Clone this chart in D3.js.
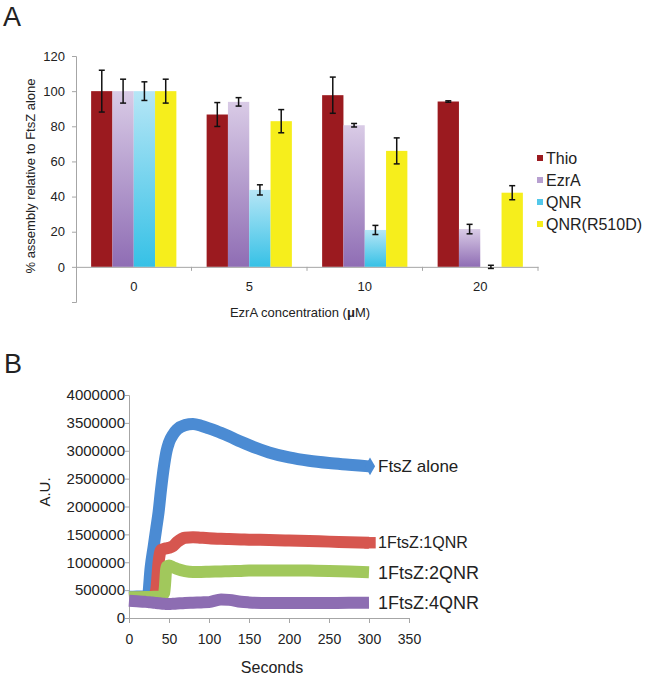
<!DOCTYPE html>
<html>
<head>
<meta charset="utf-8">
<script src="https://cdn.jsdelivr.net/npm/d3@7"></script>
<style>
  body { margin: 0; background: #fff; }
  svg { display: block; font-family: "Liberation Sans", Arial, Helvetica, sans-serif; }
</style>
</head>
<body>
<svg id="fig" width="650" height="679"></svg>
<script>
// ---- panel A data (% assembly relative to FtsZ alone) ----
const categories = ["0", "5", "10", "20"];
const seriesNames = ["Thio", "EzrA", "QNR", "QNR(R510D)"];
const thioVals  = [100, 86.7, 97.7, 94.1];
const thioErr   = [11.9, 6.8, 10.3, 0.4];
const ezraVals  = [100, 93.9, 80.6, 21.5];
const ezraErr   = [6.8, 2.4, 1.0, 2.7];
const qnrVals   = [100, 43.8, 21.0, 0];
const qnrErr    = [5.3, 2.9, 2.6, 0.9];
const r510dVals = [100, 82.9, 66.0, 42.2];
const r510dErr  = [6.8, 6.6, 7.4, 4.0];
const yTicksA = [-20, 0, 20, 40, 60, 80, 100, 120];

// ---- panel B data (light scattering, A.U.) ----
const seconds = [0, 10, 20, 24, 27, 31, 34, 37, 40, 44, 47, 50, 55, 60, 70, 80, 90, 100, 115, 125, 140, 150, 175, 200, 225, 250, 275, 300];
const ftszAlone = [380000, 385000, 390000, 450000, 900000, 1300000, 1600000, 1900000, 2300000, 2750000, 3000000, 3150000, 3290000, 3380000, 3460000, 3480000, 3450000, 3400000, 3320000, 3260000, 3160000, 3100000, 2970000, 2880000, 2820000, 2780000, 2750000, 2720000];
const ftsz1qnr = [360000, 365000, 370000, 375000, 380000, 400000, 500000, 1000000, 1220000, 1240000, 1250000, 1260000, 1290000, 1360000, 1440000, 1450000, 1440000, 1430000, 1420000, 1415000, 1410000, 1405000, 1400000, 1390000, 1380000, 1370000, 1360000, 1350000];
const ftsz2qnr = [370000, 372000, 375000, 375000, 378000, 380000, 380000, 380000, 385000, 450000, 920000, 940000, 910000, 880000, 840000, 825000, 825000, 830000, 835000, 840000, 845000, 850000, 850000, 852000, 850000, 845000, 835000, 820000];
const ftsz4qnr = [310000, 300000, 290000, 285000, 280000, 275000, 270000, 265000, 260000, 255000, 250000, 250000, 255000, 260000, 270000, 275000, 280000, 285000, 330000, 325000, 290000, 280000, 270000, 270000, 270000, 270000, 272000, 275000];
const lineNames = ["FtsZ alone", "1FtsZ:1QNR", "1FtsZ:2QNR", "1FtsZ:4QNR"];
const xTicksB = [0, 50, 100, 150, 200, 250, 300, 350];
const yTicksB = [0, 500000, 1000000, 1500000, 2000000, 2500000, 3000000, 3500000, 4000000];

const svg = d3.select("#fig");
const axisCol = "#a6a6a6";
const txtCol = "#222";

// gradients for the shaded bars
const defs = svg.append("defs");
function vgrad(id, top, bottom) {
  let g = defs.append("linearGradient").attr("id", id)
    .attr("x1", 0).attr("y1", 0).attr("x2", 0).attr("y2", 1);
  g.append("stop").attr("offset", "0%").attr("stop-color", top);
  g.append("stop").attr("offset", "100%").attr("stop-color", bottom);
}
vgrad("gEzrA", "#d9cbe6", "#8f6db4");
vgrad("gQNR", "#b6e6f6", "#36c1e6");

const barFills = ["#9b1a1f", "url(#gEzrA)", "url(#gQNR)", "#f6ee1c"];
const legendCols = ["#9b1a1f", "#b7a0d0", "#52c8ea", "#f6ee1c"];

// ================= Panel A =================
svg.append("text").attr("x", 3).attr("y", 26)
  .attr("font-size", 27).attr("fill", txtCol).text("A");

const xA = d3.scaleBand().domain(categories).range([76, 538]).paddingInner(0).paddingOuter(0);
const xSub = d3.scaleBand().domain(seriesNames).range([0, xA.bandwidth()]).paddingInner(0).paddingOuter(0.71);
const yA = d3.scaleLinear().domain([-20, 120]).range([302, 56]);

const valsA = [thioVals, ezraVals, qnrVals, r510dVals];
const errsA = [thioErr, ezraErr, qnrErr, r510dErr];
const barData = [];
seriesNames.forEach(function(s, si) {
  categories.forEach(function(c, ci) {
    barData.push({ s: s, si: si, c: c, v: valsA[si][ci], e: errsA[si][ci] });
  });
});

const gA = svg.append("g");

// y axis
const yAxisA = d3.axisLeft(yA).tickValues(yTicksA).tickSize(4).tickPadding(7)
  .tickFormat(function(d) { return d < 0 ? "" : d; });
gA.append("g").attr("transform", "translate(76,0)").call(yAxisA)
  .call(function(g) {
    g.select(".domain").attr("stroke", axisCol);
    g.selectAll(".tick line").attr("stroke", axisCol);
    g.selectAll("text").attr("font-size", 13).attr("fill", txtCol)
      .attr("font-family", "Liberation Sans, Arial, sans-serif");
  });

// bars
gA.selectAll("rect.bar").data(barData).enter().append("rect")
  .attr("class", "bar")
  .attr("x", function(d) { return xA(d.c) + xSub(d.s); })
  .attr("width", xSub.bandwidth())
  .attr("y", function(d) { return yA(d.v); })
  .attr("height", function(d) { return yA(0) - yA(d.v); })
  .attr("fill", function(d) { return barFills[d.si]; });

// x axis at 0
const xAxisA = d3.axisBottom(xA).tickSize(0).tickPadding(15);
gA.append("g").attr("transform", "translate(0," + yA(0) + ")").call(xAxisA)
  .call(function(g) {
    g.select(".domain").attr("stroke", axisCol);
    g.selectAll("text").attr("font-size", 13).attr("fill", txtCol)
      .attr("font-family", "Liberation Sans, Arial, sans-serif");
  });
// category boundary ticks
gA.selectAll("line.bnd").data(categories).enter().append("line")
  .attr("x1", function(d) { return xA(d) + xA.step(); })
  .attr("x2", function(d) { return xA(d) + xA.step(); })
  .attr("y1", yA(0)).attr("y2", yA(0) + 4)
  .attr("stroke", axisCol);

// error bars
const capW = 3;
const eb = gA.selectAll("g.err").data(barData).enter().append("g").attr("class", "err")
  .attr("stroke", "#111").attr("stroke-width", 1.5);
eb.append("line")
  .attr("x1", function(d) { return xA(d.c) + xSub(d.s) + xSub.bandwidth() / 2; })
  .attr("x2", function(d) { return xA(d.c) + xSub(d.s) + xSub.bandwidth() / 2; })
  .attr("y1", function(d) { return yA(d.v + d.e); })
  .attr("y2", function(d) { return yA(d.v - d.e); });
[1, -1].forEach(function(sign) {
  eb.append("line")
    .attr("x1", function(d) { return xA(d.c) + xSub(d.s) + xSub.bandwidth() / 2 - capW; })
    .attr("x2", function(d) { return xA(d.c) + xSub(d.s) + xSub.bandwidth() / 2 + capW; })
    .attr("y1", function(d) { return yA(d.v + sign * d.e); })
    .attr("y2", function(d) { return yA(d.v + sign * d.e); });
});

// axis titles
gA.append("text")
  .attr("transform", "translate(35,176) rotate(-90)")
  .attr("text-anchor", "middle").attr("font-size", 13).attr("fill", txtCol)
  .text("% assembly relative to FtsZ alone");
const xt = gA.append("text").attr("x", 300).attr("y", 317)
  .attr("text-anchor", "middle").attr("font-size", 13).attr("fill", txtCol);
xt.append("tspan").text("EzrA concentration (");
xt.append("tspan").attr("font-weight", "bold").text("\u03bc");
xt.append("tspan").text("M)");

// legend
const leg = gA.selectAll("g.leg").data(seriesNames).enter().append("g")
  .attr("transform", function(d, i) { return "translate(537," + (158 + i * 22) + ")"; });
leg.append("rect").attr("x", 0).attr("y", -3).attr("width", 6).attr("height", 6)
  .attr("fill", function(d, i) { return legendCols[i]; });
leg.append("text").attr("x", 9).attr("dy", "0.36em").attr("font-size", 16).attr("fill", txtCol)
  .text(function(d) { return d; });

// ================= Panel B =================
svg.append("text").attr("x", 4).attr("y", 373)
  .attr("font-size", 27).attr("fill", txtCol).text("B");

const xB = d3.scaleLinear().domain([0, 350]).range([129, 409]);
const yB = d3.scaleLinear().domain([0, 4000000]).range([618, 395]);
const gB = svg.append("g");

gB.append("g").attr("transform", "translate(129,0)")
  .call(d3.axisLeft(yB).tickValues(yTicksB).tickSize(4).tickPadding(0).tickFormat(d3.format("d")))
  .call(function(g) {
    g.select(".domain").attr("stroke", axisCol);
    g.selectAll(".tick line").attr("stroke", axisCol);
    g.selectAll("text").attr("font-size", 15).attr("fill", txtCol)
      .attr("font-family", "Liberation Sans, Arial, sans-serif");
  });
gB.append("g").attr("transform", "translate(0,618)")
  .call(d3.axisBottom(xB).tickValues(xTicksB).tickSize(5).tickPadding(11))
  .call(function(g) {
    g.select(".domain").attr("stroke", axisCol);
    g.selectAll(".tick line").attr("stroke", axisCol);
    g.selectAll("text").attr("font-size", 14).attr("fill", txtCol)
      .attr("font-family", "Liberation Sans, Arial, sans-serif");
  });

gB.append("text")
  .attr("transform", "translate(50,492) rotate(-90)")
  .attr("text-anchor", "middle").attr("font-size", 15).attr("fill", txtCol).text("A.U.");
gB.append("text").attr("x", 272).attr("y", 673)
  .attr("text-anchor", "middle").attr("font-size", 16).attr("fill", txtCol).text("Seconds");

const lineSeries = [ftszAlone, ftsz1qnr, ftsz2qnr, ftsz4qnr];
const lineCols = ["#4b8bd3", "#d6564f", "#a1c85c", "#8d6db2"];
const markers = [d3.symbolDiamond, d3.symbolSquare, null, null];
const labelSizes = [17, 16, 18, 18];

const line = d3.line()
  .x(function(d, i) { return xB(seconds[i]); })
  .y(function(d) { return yB(d); })
  .curve(d3.curveMonotoneX);

lineSeries.forEach(function(vals, k) {
  gB.append("path").datum(vals)
    .attr("d", line)
    .attr("fill", "none")
    .attr("stroke", lineCols[k])
    .attr("stroke-width", 12)
    .attr("stroke-linejoin", "round");
  let last = vals[vals.length - 1];
  let lx = xB(seconds[seconds.length - 1]);
  if (markers[k]) {
    gB.append("path")
      .attr("d", d3.symbol().type(markers[k]).size(markers[k] === d3.symbolDiamond ? 90 : 130)())
      .attr("transform", "translate(" + (lx + 1) + "," + yB(last) + ")")
      .attr("fill", lineCols[k]);
  }
  gB.append("text")
    .attr("x", lx + 9).attr("y", yB(last)).attr("dy", "0.36em")
    .attr("font-size", labelSizes[k]).attr("fill", txtCol)
    .text(lineNames[k]);
});
</script>
</body>
</html>
